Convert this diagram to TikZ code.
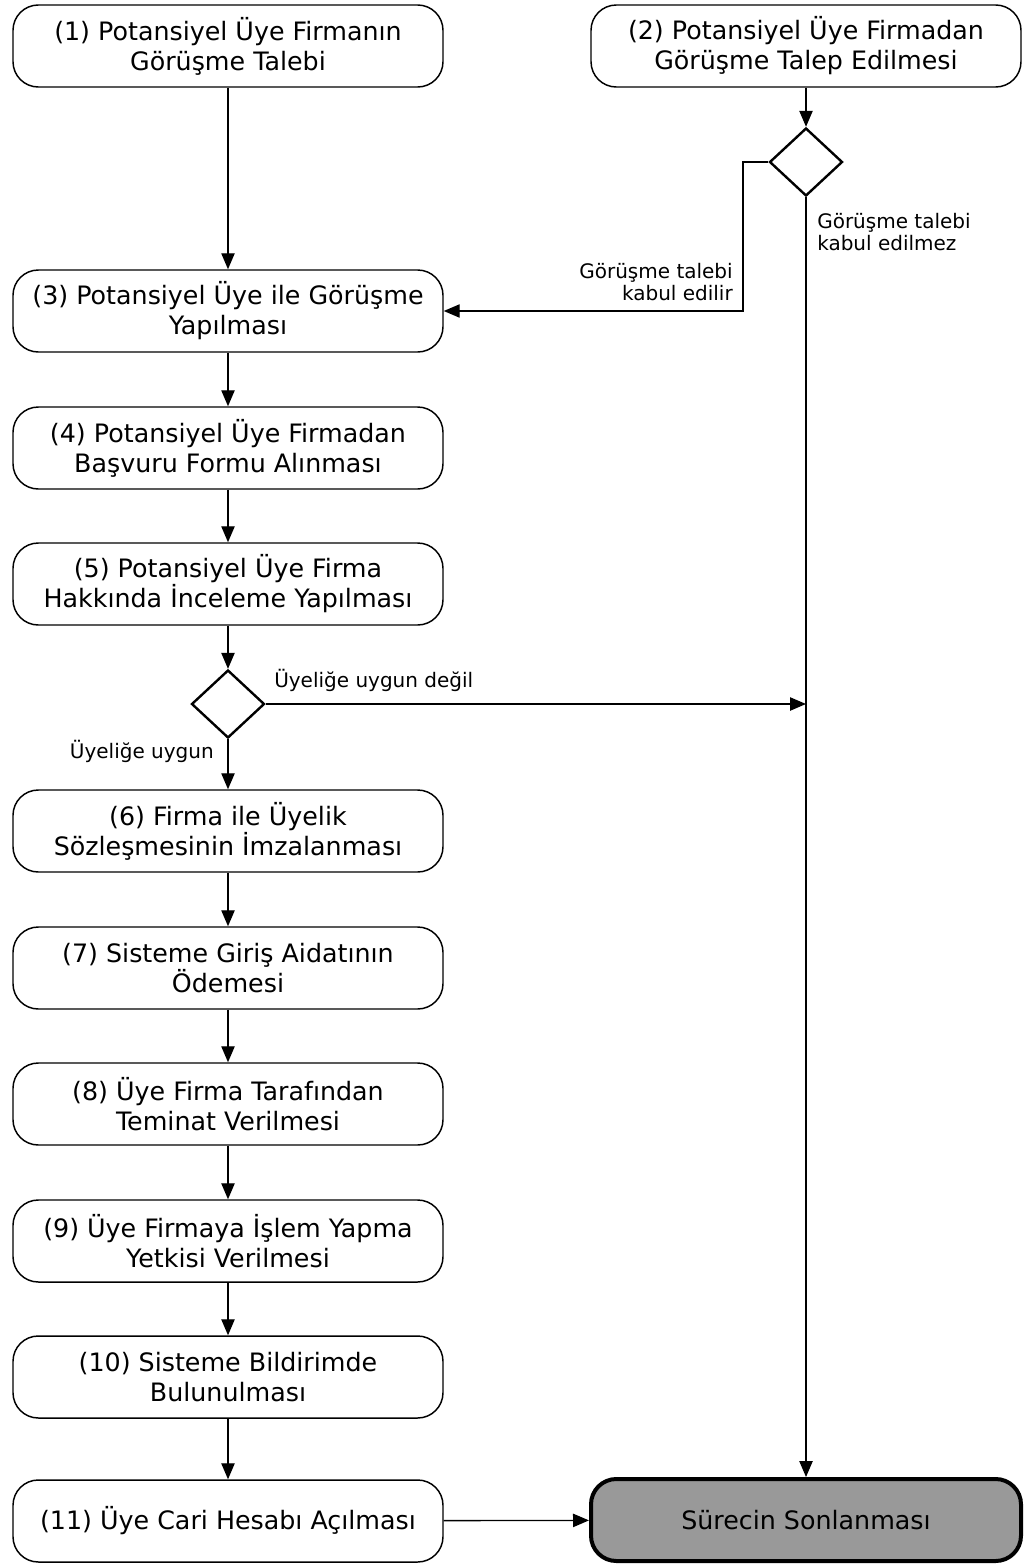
\documentclass[tikz,border=0pt]{standalone}
\usepackage{fontspec}
\setmainfont{DejaVu Sans}
\usetikzlibrary{shapes.geometric,arrows.meta}
\begin{document}
\begin{tikzpicture}[x=0.75pt,y=-0.75pt,
  box/.style={draw,line width=1.1pt,rounded corners=19pt,minimum width=322.5pt,minimum height=61.5pt,align=center,font=\fontsize{19}{22.5}\selectfont,inner sep=0pt,fill=white},
  endbox/.style={box,line width=3pt,fill=gray!80},
  dia/.style={draw,diamond,line width=1.8pt,minimum width=54.75pt,minimum height=51pt,inner sep=0pt},
  arr/.style={line width=1pt,-{Triangle[length=12pt,width=10pt]}},
  lab/.style={font=\fontsize{15}{16}\selectfont,inner sep=0pt}]
\useasboundingbox (0,0) rectangle (1030,1567);
\fill[white] (0,0) rectangle (1030,1567);
\node[box] (b1) at (228,46) {(1) Potansiyel Üye Firmanın\\Görüşme Talebi};
\node[box] (b2) at (806,46) {(2) Potansiyel Üye Firmadan\\Görüşme Talep Edilmesi};
\node[dia] (d1) at (806,162) {};
\node[box] (b3) at (228,311) {(3) Potansiyel Üye ile Görüşme\\Yapılması};
\node[box] (b4) at (228,448) {(4) Potansiyel Üye Firmadan\\Başvuru Formu Alınması};
\node[box] (b5) at (228,584) {(5) Potansiyel Üye Firma\\Hakkında İnceleme Yapılması};
\node[dia] (d2) at (228,704) {};
\node[box] (b6) at (228,831) {(6) Firma ile Üyelik\\Sözleşmesinin İmzalanması};
\node[box] (b7) at (228,968) {(7) Sisteme Giriş Aidatının\\Ödemesi};
\node[box] (b8) at (228,1104) {(8) Üye Firma Tarafından\\Teminat Verilmesi};
\node[box] (b9) at (228,1241) {(9) Üye Firmaya İşlem Yapma\\Yetkisi Verilmesi};
\node[box] (b10) at (228,1377) {(10) Sisteme Bildirimde\\Bulunulması};
\node[box] (b11) at (228,1521) {(11) Üye Cari Hesabı Açılması};
\node[endbox] (e) at (806,1520) {Sürecin Sonlanması};
\coordinate (k1) at (743,162);
\coordinate (j) at (806,704);
\node[lab,anchor=east,align=right] (l1) at (733,282) {Görüşme talebi\\kabul edilir};
\node[lab,anchor=west,align=left] (l2) at (817,232) {Görüşme talebi\\kabul edilmez};
\node[lab,anchor=west] (l3) at (274,680) {Üyeliğe uygun değil};
\node[lab,anchor=east] (l4) at (214,751) {Üyeliğe uygun};
\draw[arr] (b1) -- (b3);
\draw[arr] (b2) -- (d1);
\draw[arr] (d1.west) -- (k1) |- (b3.east);
\draw[arr] (d1.south) -- (e.north);
\draw[arr] (b3) -- (b4);
\draw[arr] (b4) -- (b5);
\draw[arr] (b5.south) -- (d2.north);
\draw[arr] (d2.east) -- (j);
\draw[arr] (d2.south) -- (b6.north);
\draw[arr] (b6) -- (b7);
\draw[arr] (b7) -- (b8);
\draw[arr] (b8) -- (b9);
\draw[arr] (b9) -- (b10);
\draw[arr] (b10) -- (b11);
\draw[arr] (b11) -- (e);
\end{tikzpicture}
\end{document}
